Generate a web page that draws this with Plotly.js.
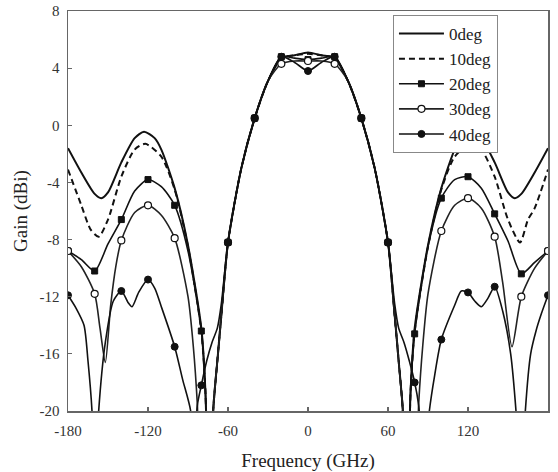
<!DOCTYPE html>
<html><head><meta charset="utf-8">
<script src="https://cdn.plot.ly/plotly-3.0.1.min.js"></script>
<style>html,body{margin:0;padding:0;background:#fff}#chart{width:558px;height:472px}</style>
</head><body><div id="chart"></div>
<script>
const seriesNames = ['0deg', '10deg', '20deg', '30deg', '40deg'];

const x0 = [-180,-170,-160,-155,-150,-140,-130,-123,-115,-110,-100,-90,-80,-77,-74,-71,-68,-65,-60,-50,-40,-30,-20,-10,0,10,20,30,40,50,60,65,68,71,74,77,80,90,100,110,115,123,130,140,150,155,160,170,180];
const y0 = [-1.6,-3.3,-4.8,-5.1,-4.7,-2.6,-0.9,-0.45,-0.9,-1.7,-4.4,-8.4,-14.2,-18.5,-28,-19.8,-16.5,-13.3,-8.2,-3.0,0.5,3.1,4.7,4.9,5.1,4.9,4.7,3.1,0.5,-3.0,-8.2,-13.3,-16.5,-19.8,-28,-18.5,-14.2,-8.4,-4.4,-1.7,-0.9,-0.45,-0.9,-2.6,-4.7,-5.1,-4.8,-3.3,-1.6];

const x10 = [-180,-170,-163,-157,-150,-140,-130,-122,-110,-100,-90,-80,-77,-74,-71,-68,-65,-60,-50,-40,-30,-20,-10,0,10,20,30,40,50,60,65,68,71,74,77,80,90,100,110,122,130,140,150,159,165,170,180];
const y10 = [-3.1,-5.6,-7.3,-7.8,-6.6,-3.6,-1.7,-1.3,-2.2,-4.5,-8.5,-14.4,-18.5,-28,-19.8,-16.5,-13.3,-8.2,-3.0,0.5,3.1,4.7,4.9,5.0,4.9,4.7,3.1,0.5,-3.0,-8.2,-13.3,-16.5,-19.8,-28,-18.5,-14.4,-8.5,-4.5,-2.2,-1.3,-1.7,-3.6,-6.6,-8.2,-6.6,-5.8,-3.1];

const x20 = [-180,-170,-160,-150,-140,-130,-120,-110,-100,-90,-80,-77,-74,-71,-68,-65,-60,-50,-40,-30,-20,-10,0,10,20,30,40,50,60,65,68,71,74,77,80,90,100,110,120,130,140,150,160,170,180];
const y20 = [-8.8,-9.4,-10.2,-8.3,-6.6,-4.6,-3.8,-4.3,-5.6,-8.8,-14.4,-18.5,-28,-19.8,-16.5,-13.3,-8.2,-3.0,0.5,3.1,4.8,4.7,4.6,4.7,4.8,3.1,0.5,-3.0,-8.2,-13.3,-16.5,-19.8,-28,-18.5,-14.6,-8.5,-5.1,-3.8,-3.6,-4.4,-6.2,-8.1,-10.4,-9.6,-8.8];

const x30 = [-180,-170,-160,-156,-152,-148,-144,-140,-130,-120,-110,-100,-90,-86,-83,-80,-76,-73,-71,-68,-65,-60,-50,-40,-30,-20,-10,0,10,20,30,40,50,60,65,68,71,73,76,80,83,86,90,100,110,120,130,140,146,153,160,170,180];
const y30 = [-8.8,-9.9,-11.8,-14.2,-16.6,-12.6,-9.8,-8.06,-6.1,-5.6,-6.3,-7.9,-12.0,-15.5,-19.5,-26,-26,-21.8,-19.8,-16.5,-13.3,-8.2,-3.0,0.5,3.1,4.3,4.5,4.5,4.5,4.3,3.1,0.5,-3.0,-8.2,-13.3,-16.5,-19.8,-21.8,-26,-26,-19.5,-15.5,-11.8,-7.4,-5.6,-5.1,-5.8,-7.8,-11.0,-15.5,-12.0,-10.0,-8.8];

const x40 = [-180,-174,-168,-165,-162,-160,-157,-152,-146,-140,-135,-132,-127,-120,-115,-110,-100,-94,-88,-86,-83,-80,-76,-72,-68,-65,-60,-50,-40,-30,-20,-10,0,10,20,30,40,50,60,65,68,72,76,80,83,87,91,95,100,110,115,120,125,130,135,140,146,152,156,160,163,167,171,175,180];
const y40 = [-11.9,-12.8,-14.0,-16.5,-20,-26,-20,-15.2,-12.3,-11.6,-12.4,-12.7,-11.7,-10.8,-11.4,-12.7,-15.5,-17.8,-20,-24,-19.6,-18.2,-16.5,-15.2,-14.2,-12.5,-8.2,-3.0,0.5,3.1,4.8,4.4,3.8,4.4,4.8,3.1,0.5,-3.0,-8.2,-12.5,-14.2,-15.2,-16.5,-18.0,-19.6,-24,-20,-17.5,-15.0,-12.6,-11.6,-11.7,-12.3,-12.7,-12.1,-11.3,-13.0,-16.0,-20,-26,-20,-16.0,-14.4,-13.2,-11.9];

const markerX = [-180,-160,-140,-120,-100,-80,-60,-40,-20,0,20,40,60,80,100,120,140,160,180];

const xTickVals = [-180,-120,-60,0,60,120,180];
const xTickText = ['-180','-120','-60','0','60','120','180'];
const yTickVals = [-20,-16,-12,-8,-4,0,4,8];
const yTickText = ['-20','-16','-12','-8','-4','0','4','8'];

const seriesX = [x0, x10, x20, x30, x40];
const seriesY = [y0, y10, y20, y30, y40];
const styles = [
  {line:{color:'#111', width:2, dash:'solid'}, marker:null},
  {line:{color:'#111', width:2, dash:'6px,4px'}, marker:null},
  {line:{color:'#111', width:1.6, dash:'solid'}, marker:{symbol:'square', size:6, color:'#111', line:{color:'#111', width:1}}},
  {line:{color:'#222', width:1.6, dash:'solid'}, marker:{symbol:'circle', size:7, color:'#fff', line:{color:'#111', width:1.2}}},
  {line:{color:'#111', width:1.6, dash:'solid'}, marker:{symbol:'circle', size:7, color:'#111', line:{color:'#111', width:1}}}
];

const lineTraces = [], markerTraces = [], legendTraces = [];
seriesNames.forEach((name, i) => {
  const st = styles[i];
  lineTraces.push({
    x: seriesX[i], y: seriesY[i], mode: 'lines', showlegend: false, hoverinfo: 'skip',
    line: Object.assign({shape: 'spline', smoothing: 0.7}, st.line)
  });
  const leg = {x: [null], y: [null], name: name, mode: 'lines', line: st.line};
  if (st.marker) {
    const mx = [], my = [];
    markerX.forEach(v => {
      const k = seriesX[i].indexOf(v);
      if (k >= 0) { mx.push(v); my.push(seriesY[i][k]); }
    });
    markerTraces.push({x: mx, y: my, mode: 'markers', showlegend: false, hoverinfo: 'skip', marker: st.marker});
    leg.mode = 'lines+markers';
    leg.marker = st.marker;
  }
  legendTraces.push(leg);
});

const fontFam = '"Liberation Serif", serif';
const axisCommon = {
  showline: true, linecolor: '#666', linewidth: 1.5, mirror: true,
  ticks: 'inside', ticklen: 4, tickcolor: '#666', tickwidth: 1.2,
  showgrid: false, zeroline: false, tickmode: 'array',
  tickfont: {family: fontFam, size: 15, color: '#333'}
};

const layout = {
  width: 558, height: 472,
  margin: {l: 68, r: 10, t: 11, b: 61},
  paper_bgcolor: '#fff', plot_bgcolor: '#fff',
  showlegend: true,
  font: {family: fontFam},
  xaxis: Object.assign({}, axisCommon, {
    range: [-180, 180], tickvals: xTickVals, ticktext: xTickText, ticklabelstandoff: 5,
    title: {text: 'Frequency (GHz)', font: {family: fontFam, size: 19, color: '#222'}, standoff: 16}
  }),
  yaxis: Object.assign({}, axisCommon, {
    range: [-20, 8], tickvals: yTickVals, ticktext: yTickText, ticklabelstandoff: 4,
    title: {text: 'Gain (dBi)', font: {family: fontFam, size: 19, color: '#222'}, standoff: 7}
  }),
  legend: {
    x: 0.677, y: 0.99, xanchor: 'left', yanchor: 'top',
    bgcolor: '#fff', bordercolor: '#888', borderwidth: 1,
    font: {family: fontFam, size: 17, color: '#222'},
    itemwidth: 45, tracegroupgap: 0
  }
};

Plotly.newPlot('chart', lineTraces.concat(markerTraces, legendTraces), layout, {displayModeBar: false, staticPlot: true});
</script>
</body></html>
